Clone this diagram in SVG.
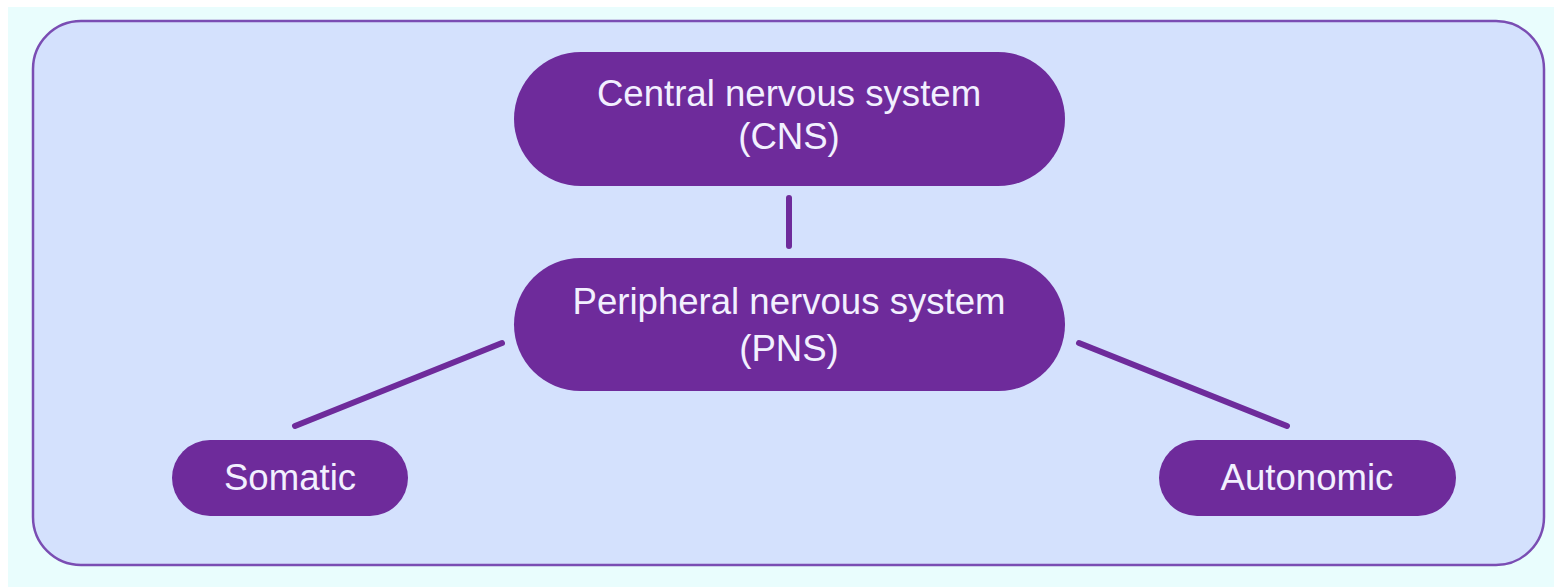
<svg xmlns="http://www.w3.org/2000/svg" width="1554" height="587" viewBox="0 0 1554 587">
<style>
.node{fill:#6E2B9B}
.lbl{font-family:"Liberation Sans",Arial,sans-serif;font-size:36.6px;fill:#F2F0FF;text-anchor:middle}
.conn{stroke:#6E2B9B;stroke-width:6;stroke-linecap:round;fill:none}
</style>
<rect x="0" y="0" width="1554" height="587" fill="#FFFFFF"/>
<rect x="8" y="7" width="1546" height="580" fill="#E9FDFD"/>
<rect id="frame" x="33" y="21" width="1511" height="544" rx="48" ry="48" fill="#D4E1FD" stroke="#7A4DB3" stroke-width="2.5"/>
<g id="connectors">
<line class="conn" x1="789" y1="198" x2="789" y2="246"/>
<line class="conn" x1="502" y1="343" x2="295" y2="426"/>
<line class="conn" x1="1079" y1="343" x2="1287" y2="426"/>
</g>
<g id="cns">
<rect class="node" x="514" y="52" width="551" height="134" rx="67" ry="67"/>
<text class="lbl" x="789" y="106">Central nervous system</text>
<text class="lbl" x="789" y="149">(CNS)</text>
</g>
<g id="pns">
<rect class="node" x="514" y="258" width="551" height="133" rx="66.5" ry="66.5"/>
<text class="lbl" x="789" y="314">Peripheral nervous system</text>
<text class="lbl" x="789" y="361">(PNS)</text>
</g>
<g id="somatic">
<rect class="node" x="172" y="440" width="236" height="76" rx="38" ry="38"/>
<text class="lbl" x="290" y="490">Somatic</text>
</g>
<g id="autonomic">
<rect class="node" x="1159" y="440" width="297" height="76" rx="38" ry="38"/>
<text class="lbl" x="1307" y="490">Autonomic</text>
</g>
</svg>
